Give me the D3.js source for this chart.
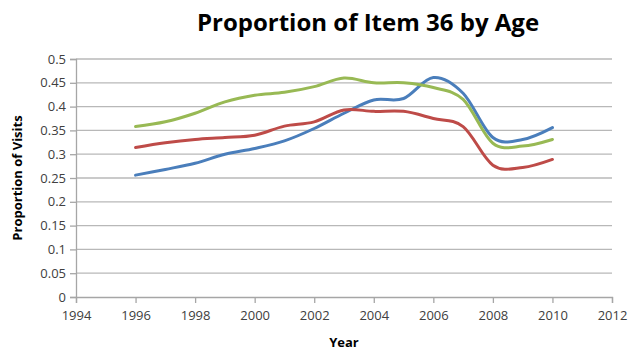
<!DOCTYPE html>
<html><head><meta charset="utf-8">
<script src="https://cdn.jsdelivr.net/npm/d3@7"></script>
<style>body{margin:0;background:#fff}svg{display:block}text{font-family:"Open Sans","Liberation Sans",sans-serif}</style>
</head><body>
<svg id="c" width="630" height="350"></svg>
<script>
const years = [1996,1997,1998,1999,2000,2001,2002,2003,2004,2005,2006,2007,2008,2009,2010];
const blueValues  = [0.256,0.268,0.281,0.300,0.312,0.328,0.354,0.386,0.414,0.417,0.461,0.428,0.335,0.331,0.356];
const redValues   = [0.314,0.324,0.331,0.335,0.340,0.359,0.368,0.393,0.390,0.390,0.375,0.358,0.277,0.272,0.289];
const greenValues = [0.358,0.368,0.386,0.410,0.424,0.430,0.442,0.460,0.450,0.450,0.440,0.415,0.323,0.317,0.331];
const xTicks = [1994,1996,1998,2000,2002,2004,2006,2008,2010,2012];
const yTicks = [0,0.05,0.1,0.15,0.2,0.25,0.3,0.35,0.4,0.45,0.5];
const seriesColors = ["#4A7EBB","#BE4B48","#98B954"];

const svg = d3.select("#c");
const L=76,R=612,T=59,B=297;
const x = d3.scaleLinear().domain([1994,2012]).range([L,R]);
const y = d3.scaleLinear().domain([0,0.5]).range([B,T]);

svg.append("g").selectAll("line").data(yTicks.filter(d=>d>0)).join("line")
  .attr("x1",L).attr("x2",R).attr("y1",d=>y(d)).attr("y2",d=>y(d))
  .attr("stroke","#B8B8B8").attr("stroke-width",1.3);

const yAxis = svg.append("g").attr("transform",`translate(${L},0)`)
  .call(d3.axisLeft(y).tickValues(yTicks).tickFormat(d=>String(+d.toFixed(2))).tickSize(6).tickPadding(4));
const xAxis = svg.append("g").attr("transform",`translate(0,${B})`)
  .call(d3.axisBottom(x).tickValues(xTicks).tickFormat(d3.format("d")).tickSize(6).tickPadding(8));
[yAxis,xAxis].forEach(a=>{
  a.select(".domain").attr("stroke","#A6A6A6").attr("stroke-width",1.3);
  a.selectAll(".tick line").attr("stroke","#A6A6A6").attr("stroke-width",1.3);
  a.selectAll("text").attr("fill","#404040").attr("font-size",13);
});

const line = d3.line().x((d,i)=>x(years[i])).y(d=>y(d)).curve(d3.curveCardinal.tension(0));
[blueValues,redValues,greenValues].forEach((s,i)=>{
  svg.append("path").datum(s).attr("d",line).attr("fill","none")
    .attr("stroke",seriesColors[i]).attr("stroke-width",3).attr("stroke-linecap","round");
});

svg.append("text").attr("x",368).attr("y",31).attr("text-anchor","middle")
  .attr("font-size",24).attr("font-weight","bold").attr("fill","#000").text("Proportion of Item 36 by Age");
svg.append("text").attr("x",344).attr("y",347).attr("text-anchor","middle")
  .attr("font-size",13).attr("font-weight","bold").attr("fill","#000").text("Year");
svg.append("text").attr("transform","translate(22,178) rotate(-90)").attr("text-anchor","middle")
  .attr("font-size",13).attr("font-weight","bold").attr("fill","#000").text("Proportion of Visits");
</script>
</body></html>
